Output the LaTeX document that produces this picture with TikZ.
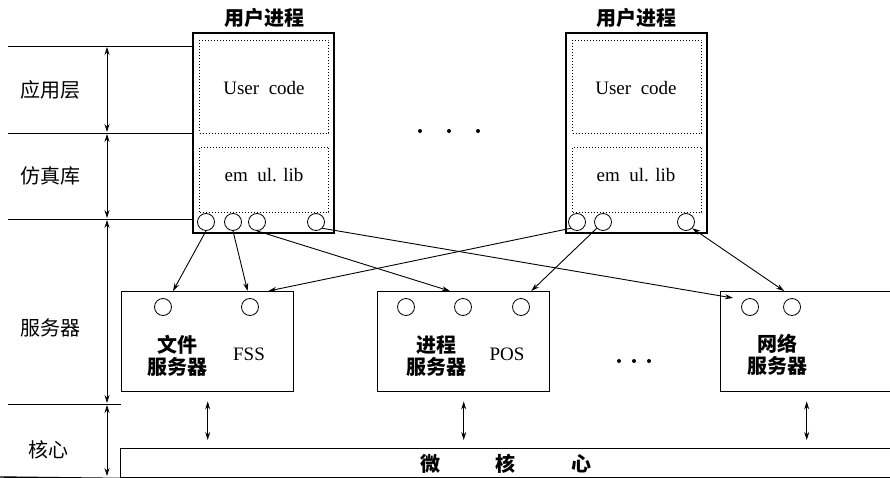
\documentclass[tikz,border=0pt]{standalone}
\usepackage{fontspec}
\setmainfont{Liberation Serif}
\newfontfamily\cjk{Noto Sans CJK SC}
\usetikzlibrary{arrows.meta,calc}
\begin{document}
\begin{tikzpicture}[x=1pt,y=-1pt,
  zh/.style={font=\cjk\fontsize{20}{22}\selectfont, inner sep=0pt, align=center},
  zhb/.style={font=\cjk\bfseries\fontsize{20}{22}\selectfont, inner sep=0pt, align=center},
  en/.style={font=\fontsize{19}{22}\selectfont, inner sep=0pt},
  ubox/.style={draw, line width=1.6pt, minimum width=141pt, minimum height=200pt, inner sep=0pt, anchor=north west},
  dbox/.style={draw, dotted, line width=1pt, minimum width=129pt, inner sep=0pt, anchor=north west},
  sbox/.style={draw, line width=1.4pt, minimum width=172pt, minimum height=100pt, inner sep=0pt, anchor=north west},
  port/.style={draw, circle, line width=0.8pt, minimum size=17pt, inner sep=0pt},
  tip/.style={-{Stealth[length=8pt,width=5pt]}},
  conn/.style={line width=0.9pt, tip},
  dconn/.style={line width=0.9pt, {Stealth[length=8pt,width=5pt]}-{Stealth[length=8pt,width=5pt]}},
  layer/.style={line width=0.8pt},
  dotmark/.style={circle, fill, inner sep=0pt, minimum size=4pt}
]
\useasboundingbox (0,0) rectangle (890,478);

% ---------- user processes ----------
\node[ubox] (ub1) at (192,32) {};
\node[zhb] (t1) at (264,18) {用户进程};
\node[dbox, minimum height=93pt] (ub1a) at (199,40) {};
\node[dbox, minimum height=65pt] (ub1b) at (199,147) {};
\node[en] (uc1) at (264,88) {User\ \ code};
\node[en] (el1) at (264,175) {em\ \ ul. lib};
\node[port] (p11) at (206,222) {};
\node[port] (p12) at (233,222) {};
\node[port] (p13) at (257,222) {};
\node[port] (p14) at (316,222) {};

\node[ubox] (ub2) at (565,32) {};
\node[zhb] (t2) at (636,18) {用户进程};
\node[dbox, minimum height=93pt] (ub2a) at (572,40) {};
\node[dbox, minimum height=65pt] (ub2b) at (572,147) {};
\node[en] (uc2) at (636,88) {User\ \ code};
\node[en] (el2) at (636,175) {em\ \ ul. lib};
\node[port] (p21) at (577,222) {};
\node[port] (p22) at (603,222) {};
\node[port] (p23) at (686,222) {};

\node[dotmark] (d1) at (420,131) {};
\node[dotmark] (d2) at (449,131) {};
\node[dotmark] (d3) at (478,131) {};

% ---------- servers ----------
\node[sbox] (fs) at (121,291) {};
\node[port] (f1) at (163,307) {};
\node[port] (f2) at (250,307) {};
\node[zhb] (fst) at (177,356) {文件\\服务器};
\node[en] (fss) at (249,354) {FSS};

\node[sbox] (ps) at (377,291) {};
\node[port] (q1) at (406,307) {};
\node[port] (q2) at (463,307) {};
\node[port] (q3) at (521,307) {};
\node[zhb] (pst) at (436,356) {进程\\服务器};
\node[en] (pos) at (507,354) {POS};

\node[sbox] (ns) at (720,291) {};
\node[port] (n1) at (750,307) {};
\node[port] (n2) at (792,307) {};
\node[zhb] (nst) at (777,355) {网络\\服务器};

\node[dotmark] (e1) at (619,361) {};
\node[dotmark] (e2) at (634,361) {};
\node[dotmark] (e3) at (649,361) {};

% ---------- kernel ----------
\node[draw, line width=1.4pt, minimum width=772pt, minimum height=29pt, inner sep=0pt, anchor=north west] (kern) at (120,448) {};
\node[zhb] (k1) at (430,464) {微};
\node[zhb] (k2) at (505,464) {核};
\node[zhb] (k3) at (581,464) {心};

% ---------- layer labels and lines ----------
\node[zh] (la1) at (50,90) {应用层};
\node[zh] (la2) at (50,176) {仿真库};
\node[zh] (la3) at (50,328) {服务器};
\node[zh] (la4) at (48,450) {核心};

\coordinate (h0) at (8,46);
\coordinate (h1) at (8,133);
\coordinate (h2) at (8,219);
\coordinate (h3) at (8,404);
\coordinate (h4) at (0,477);
\draw[layer] (h0) -- (ub1.west |- h0);
\draw[layer] (h1) -- (ub1.west |- h1);
\draw[layer] (h2) -- (ub1.west |- h2);
\draw[layer] (h3) -- (fs.west |- h3);
\draw[line width=1.4pt] (h4) -- (kern.south west);

\coordinate (v0) at (107,46);
\coordinate (v1) at (107,133);
\coordinate (v2) at (107,219);
\coordinate (v3) at (107,404);
\coordinate (v4) at (107,477);
\draw[dconn, line width=0.7pt, shorten <=1pt, shorten >=1pt] (v0) -- (v1);
\draw[dconn, line width=0.7pt, shorten <=1pt, shorten >=1pt] (v1) -- (v2);
\draw[dconn, line width=0.7pt, shorten <=1pt, shorten >=1pt] (v2) -- (v3);
\draw[dconn, line width=0.7pt, shorten <=1pt, shorten >=1pt] (v3) -- (v4);

% ---------- connectors ----------
\coordinate (fsA) at ($(fs.north west)!0.30!(fs.north east)$);
\coordinate (fsB) at ($(fs.north west)!0.73!(fs.north east)$);
\coordinate (fsC) at ($(fs.north west)!0.85!(fs.north east)$);
\coordinate (psA) at ($(ps.north west)!0.42!(ps.north east)$);
\coordinate (psB) at ($(ps.north west)!0.89!(ps.north east)$);
\coordinate (nsA) at (733,298);
\coordinate (nsB) at ($(ns.north west)!0.37!(ns.north east)$);

\draw[conn] (p11.south) -- (fsA);
\draw[conn] (p12.south) -- (fsB);
\draw[conn] (p13.south) -- (psA);
\draw[conn] (p14.south east) -- (nsA);
\draw[conn] (p21.south west) -- (fsC);
\draw[conn] (p22.south west) -- (psB);
\draw[dconn] (p23.south east) -- (nsB);

% server <-> kernel
\draw[dconn, shorten <=9pt, shorten >=8pt] (fs.south) -- (fs.south |- kern.north);
\draw[dconn, shorten <=9pt, shorten >=8pt] (ps.south) -- (ps.south |- kern.north);
\draw[dconn, shorten <=9pt, shorten >=8pt] (ns.south) -- (ns.south |- kern.north);
\end{tikzpicture}
\end{document}
